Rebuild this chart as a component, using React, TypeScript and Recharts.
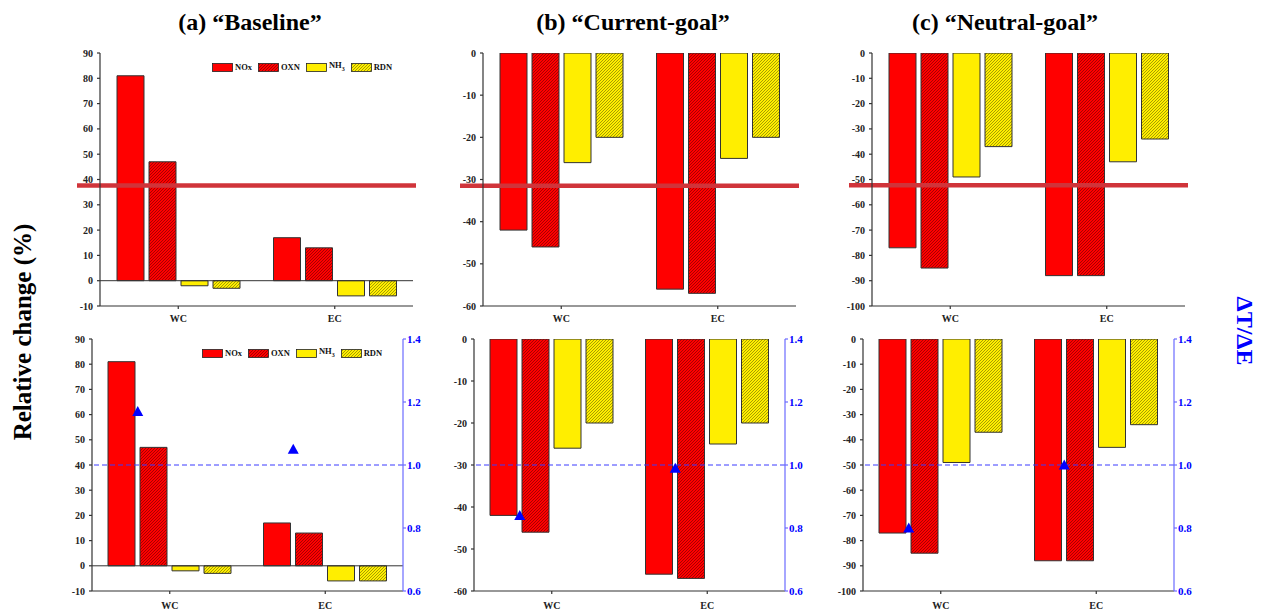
import React from "react";
import {
  ComposedChart,
  Bar,
  Line,
  XAxis,
  YAxis,
  ReferenceLine,
  Legend,
} from "recharts";

// categories and series values (relative change, %)
const categories = ["WC", "EC"];

const baseNOx = [81, 17];
const baseOXN = [47, 13];
const baseNH3 = [-2, -6];
const baseRDN = [-3, -6];

const curNOx = [-42, -56];
const curOXN = [-46, -57];
const curNH3 = [-26, -25];
const curRDN = [-20, -20];

const neuNOx = [-77, -88];
const neuOXN = [-85, -88];
const neuNH3 = [-49, -43];
const neuRDN = [-37, -34];

// ΔT/ΔE ratio (right axis, bottom row)
const baseRatio = [1.17, 1.05];
const curRatio = [0.84, 0.99];
const neuRatio = [0.8, 1.0];

// thick red cut line drawn across the top row
const cutLevels = [37.6, -31.5, -52.3];

const baseTicks = [-10, 0, 10, 20, 30, 40, 50, 60, 70, 80, 90];
const curTicks = [-60, -50, -40, -30, -20, -10, 0];
const neuTicks = [-100, -90, -80, -70, -60, -50, -40, -30, -20, -10, 0];
const ratioTicks = [0.6, 0.8, 1.0, 1.2, 1.4];

const titles = ["(a) \u201cBaseline\u201d", "(b) \u201cCurrent-goal\u201d", "(c) \u201cNeutral-goal\u201d"];

const FONT = '"Times New Roman", "Liberation Serif", Tinos, "DejaVu Serif", serif';
const RED = "#ff0000";
const YELLOW = "#ffee00";
const AXIS = "#333333";
const BLUE = "#0000ff";
const BAR_SIZE = 27;
const BAR_GAP = 5;

type Row = { cat: string; NOx: number; OXN: number; NH3: number; RDN: number; ratio?: number };

function makeRows(nox: number[], oxn: number[], nh3: number[], rdn: number[], ratio?: number[]): Row[] {
  return categories.map((cat, i) => ({
    cat,
    NOx: nox[i],
    OXN: oxn[i],
    NH3: nh3[i],
    RDN: rdn[i],
    ratio: ratio ? ratio[i] : undefined,
  }));
}

const legendItems = [
  { key: "NOx", label: <>NOx</>, fill: RED },
  { key: "OXN", label: <>OXN</>, fill: "url(#hatch-red)" },
  { key: "NH3", label: <>NH<sub style={{ fontSize: 6 }}>3</sub></>, fill: YELLOW },
  { key: "RDN", label: <>RDN</>, fill: "url(#hatch-yellow)" },
];

function LegendBox() {
  return (
    <div style={{ display: "flex", alignItems: "center", fontFamily: FONT, fontWeight: "bold", fontSize: 8.5, color: "#111" }}>
      {legendItems.map((it) => (
        <div key={it.key} style={{ display: "flex", alignItems: "center", marginRight: 6 }}>
          <svg width={21} height={9} style={{ display: "block" }}>
            <rect x={0.5} y={0.5} width={20} height={8} fill={it.fill} stroke="#222" strokeWidth={0.8} />
          </svg>
          <span style={{ marginLeft: 2, lineHeight: "9px" }}>{it.label}</span>
        </div>
      ))}
    </div>
  );
}

function CutLine(props: any) {
  const { x1, y1, x2, y2 } = props;
  return <line x1={x1 - 23} y1={y1} x2={x2 + 3} y2={y2} stroke="#d0343a" strokeWidth={4.5} />;
}

function Triangle(props: any) {
  const { cx, cy, index } = props;
  if (cx == null || cy == null) return <g key={index} />;
  const x = cx - (BAR_SIZE + BAR_GAP);
  return (
    <path
      key={index}
      d={`M${x},${cy - 5.5} L${x + 5.5},${cy + 4.5} L${x - 5.5},${cy + 4.5} Z`}
      fill={BLUE}
    />
  );
}

type PanelProps = {
  rows: Row[];
  ticks: number[];
  box: { left: number; top: number; width: number; height: number };
  cut?: number;
  ratio?: boolean;
  legend?: boolean;
  labelMargin: number;
};

function Panel({ rows, ticks, box, cut, ratio, legend, labelMargin }: PanelProps) {
  const domain = [ticks[0], ticks[ticks.length - 1]];
  const tickStyle = { fontFamily: FONT, fontWeight: "bold" as const, fontSize: 10, fill: "#222" };
  return (
    <div style={{ position: "absolute", left: box.left, top: box.top }}>
      <ComposedChart
        width={box.width}
        height={box.height}
        data={rows}
        margin={{ top: 5, right: 5, left: 0, bottom: 0 }}
        barSize={BAR_SIZE}
        barGap={BAR_GAP}
      >
        <defs>
          <pattern id="hatch-red" patternUnits="userSpaceOnUse" width={3} height={3}>
            <rect width={3} height={3} fill={RED} />
            <path d="M-1,1 l2,-2 M0,3 l3,-3 M2,4 l2,-2" stroke="#3a0000" strokeWidth={0.45} />
          </pattern>
          <pattern id="hatch-yellow" patternUnits="userSpaceOnUse" width={3} height={3}>
            <rect width={3} height={3} fill={YELLOW} />
            <path d="M-1,1 l2,-2 M0,3 l3,-3 M2,4 l2,-2" stroke="#3a3a00" strokeWidth={0.45} />
          </pattern>
        </defs>
        <XAxis
          dataKey="cat"
          stroke={AXIS}
          strokeWidth={1.2}
          height={30}
          tickSize={3}
          tickMargin={labelMargin}
          tick={{ ...tickStyle, fontSize: 10 }}
        />
        <XAxis xAxisId="top" dataKey="cat" orientation="top" height={0} tick={false} tickLine={false} stroke={AXIS} strokeWidth={1.2} />
        <YAxis
          domain={domain}
          ticks={ticks}
          interval={0}
          width={45}
          stroke={AXIS}
          strokeWidth={1.2}
          tickSize={3}
          tickMargin={4}
          tick={tickStyle}
          allowDataOverflow
        />
        {ratio ? (
          <YAxis
            yAxisId="r"
            orientation="right"
            domain={[0.6, 1.4]}
            ticks={ratioTicks}
            interval={0}
            width={35}
            stroke="#6b6bff"
            strokeWidth={1.2}
            tickSize={3}
            tickMargin={1}
            tickFormatter={(v: number) => v.toFixed(1)}
            tick={{ ...tickStyle, fontSize: 11, fill: BLUE }}
          />
        ) : (
          <YAxis yAxisId="frame" orientation="right" width={0} tick={false} tickLine={false} stroke={AXIS} strokeWidth={1.2} />
        )}
        {domain[0] < 0 && domain[1] > 0 && <ReferenceLine y={0} stroke={AXIS} strokeWidth={1} />}
        <Bar dataKey="NOx" fill={RED} stroke="#333" strokeWidth={1} isAnimationActive={false} />
        <Bar dataKey="OXN" fill="url(#hatch-red)" stroke="#333" strokeWidth={1} isAnimationActive={false} />
        <Bar dataKey="NH3" fill={YELLOW} stroke="#333" strokeWidth={1} isAnimationActive={false} />
        <Bar dataKey="RDN" fill="url(#hatch-yellow)" stroke="#333" strokeWidth={1} isAnimationActive={false} />
        {ratio && <ReferenceLine yAxisId="r" y={1} stroke="#3a3aff" strokeWidth={1} strokeDasharray="5 3" />}
        {ratio && (
          <Line
            yAxisId="r"
            dataKey="ratio"
            stroke="none"
            isAnimationActive={false}
            dot={(p: any) => <Triangle key={p.index} {...p} />}
            activeDot={false}
            legendType="none"
          />
        )}
        {cut !== undefined && <ReferenceLine y={cut} shape={CutLine} />}
        {legend && (
          <Legend
            layout="horizontal"
            verticalAlign="middle"
            align="center"
            content={() => <LegendBox />}
            wrapperStyle={{ top: 13, left: ratio ? 155 : 157, width: "auto" }}
          />
        )}
      </ComposedChart>
    </div>
  );
}

const baseRows = makeRows(baseNOx, baseOXN, baseNH3, baseRDN, baseRatio);
const curRows = makeRows(curNOx, curOXN, curNH3, curRDN, curRatio);
const neuRows = makeRows(neuNOx, neuOXN, neuNH3, neuRDN, neuRatio);

const titleCenters = [250, 633, 1005];

export default function App() {
  return (
    <div
      style={{
        position: "absolute",
        left: 0,
        top: 0,
        width: 1273,
        height: 613,
        background: "#fff",
        fontFamily: FONT,
        overflow: "hidden",
      }}
    >
      {titles.map((t, i) => (
        <div
          key={t}
          style={{
            position: "absolute",
            left: titleCenters[i] - 150,
            top: 8,
            width: 300,
            textAlign: "center",
            fontWeight: "bold",
            fontSize: 24,
            lineHeight: "28px",
            color: "#000",
          }}
        >
          {t}
        </div>
      ))}

      <Panel rows={baseRows} ticks={baseTicks} cut={cutLevels[0]} legend labelMargin={6}
        box={{ left: 55, top: 48, width: 363, height: 288 }} />
      <Panel rows={curRows} ticks={curTicks} cut={cutLevels[1]} labelMargin={6}
        box={{ left: 438, top: 48, width: 363, height: 288 }} />
      <Panel rows={neuRows} ticks={neuTicks} cut={cutLevels[2]} labelMargin={6}
        box={{ left: 827, top: 48, width: 363, height: 288 }} />

      <Panel rows={baseRows} ticks={baseTicks} ratio legend labelMargin={7.5}
        box={{ left: 47, top: 334, width: 396, height: 287 }} />
      <Panel rows={curRows} ticks={curTicks} ratio labelMargin={7.5}
        box={{ left: 429, top: 334, width: 396, height: 287 }} />
      <Panel rows={neuRows} ticks={neuTicks} ratio labelMargin={7.5}
        box={{ left: 818, top: 334, width: 396, height: 287 }} />

      <div
        style={{
          position: "absolute",
          left: 23 - 130,
          top: 332 - 15,
          width: 260,
          textAlign: "center",
          fontWeight: "bold",
          fontSize: 25,
          lineHeight: "30px",
          transform: "rotate(-90deg)",
        }}
      >
        Relative change (%)
      </div>
      <div
        style={{
          position: "absolute",
          left: 1245 - 50,
          top: 331 - 14,
          width: 100,
          textAlign: "center",
          fontWeight: "bold",
          fontSize: 24,
          lineHeight: "28px",
          color: BLUE,
          transform: "rotate(90deg)",
        }}
      >
        ΔT/ΔE
      </div>
    </div>
  );
}
